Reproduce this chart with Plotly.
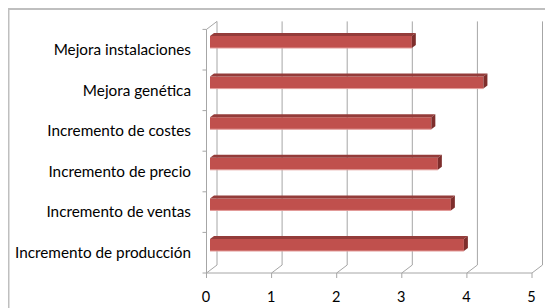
import plotly.graph_objects as go

categories = ["Incremento de producción", "Incremento de ventas", "Incremento de precio",
              "Incremento de costes", "Mejora genética", "Mejora instalaciones"]
values = [3.9, 3.7, 3.5, 3.4, 4.2, 3.1]
x_ticks = [0, 1, 2, 3, 4, 5]

# page offset of the plot div (browser body margin)
OFF = 8

# geometry (pixels) for the pseudo-3D look
KX = 65.1      # px per x unit
KY = 40.6      # px per category
FRONT_DX = -3.5 / KX
BACK_DX = 7.0 / KX
BACK_DY = 8.0 / KY
BAR_W = 12.0 / KY
BAR_OFF = 7.7 / KY - BAR_W / 2
DEPTH_DX = 4.0 / KX
DEPTH_DY = 3.0 / KY

W, H = 553 - OFF, 308 - OFF
L, R, T, B = 200 - OFF, 0, 20 - OFF, 27
x_range = [-10 / KX, (553 - 210) / KX]
y_range = [(252.7 - 281) / KY, (252.7 - 20) / KY]

pos = list(range(len(categories)))

fig = go.Figure()
fig.add_trace(go.Bar(
    y=pos, x=values, orientation="h",
    width=BAR_W, offset=BAR_OFF,
    marker=dict(color="#C0504D", line=dict(width=0)),
    hoverinfo="x+text", text=categories, textposition="none",
))

shapes = []
grid_col = "#A6A6A6"
top_back = len(categories) - 0.5 + BACK_DY
# back-wall gridlines with floor diagonals
for v in x_ticks:
    shapes.append(dict(type="path", xref="x", yref="y", layer="below",
                       path=f"M {v+FRONT_DX},{-0.5} L {v+BACK_DX},{-0.5+BACK_DY} L {v+BACK_DX},{top_back}",
                       line=dict(color=grid_col, width=1)))
    # tick under the front axis
    shapes.append(dict(type="line", xref="x", yref="y", layer="below",
                       x0=v+FRONT_DX, x1=v+FRONT_DX, y0=-0.5, y1=-0.5-5/KY,
                       line=dict(color=grid_col, width=1)))
# front axis line
shapes.append(dict(type="line", xref="x", yref="y", layer="below",
                   x0=x_ticks[0]+FRONT_DX, x1=x_ticks[-1]+FRONT_DX, y0=-0.5, y1=-0.5,
                   line=dict(color=grid_col, width=1)))
# left wall front edge + top diagonal
shapes.append(dict(type="path", xref="x", yref="y", layer="below",
                   path=f"M {FRONT_DX},{-0.5} L {FRONT_DX},{len(categories)-0.5} L {BACK_DX},{top_back}",
                   line=dict(color=grid_col, width=1)))
for i in range(len(categories) + 1):
    shapes.append(dict(type="line", xref="x", yref="y", layer="below",
                       x0=FRONT_DX-4/KX, x1=FRONT_DX, y0=i-0.5, y1=i-0.5,
                       line=dict(color=grid_col, width=1)))

# bar top and side faces
for p, v in zip(pos, values):
    yb = p + BAR_OFF
    yt = yb + BAR_W
    shapes.append(dict(type="path", xref="x", yref="y", layer="above",
                       path=f"M 0,{yt} L {v},{yt} L {v+DEPTH_DX},{yt+DEPTH_DY} L {DEPTH_DX},{yt+DEPTH_DY} Z",
                       fillcolor="#943C3A", line=dict(width=0)))
    shapes.append(dict(type="path", xref="x", yref="y", layer="above",
                       path=f"M {v},{yb} L {v},{yt} L {v+DEPTH_DX},{yt+DEPTH_DY} L {v+DEPTH_DX},{yb+DEPTH_DY} Z",
                       fillcolor="#7E2E2C", line=dict(width=0)))
    shapes.append(dict(type="line", xref="x", yref="y", layer="above",
                       x0=0, x1=v, y0=yb, y1=yb,
                       line=dict(color="#E29A98", width=1)))

# outer chart border (top and left), given in figure pixels
pw = W - L - R
ph = H - T - B
def px2paper_x(px):
    return (px - L) / pw
def py2paper_y(py):
    return (H - B - py) / ph
shapes.append(dict(type="path", xref="paper", yref="paper", layer="above",
                   path=f"M {px2paper_x(0.5)},{py2paper_y(H+2)} L {px2paper_x(0.5)},{py2paper_y(1)} L {px2paper_x(W+2)},{py2paper_y(1)}",
                   line=dict(color="#BFBFBF", width=2)))

fig.update_layout(
    width=W, height=H,
    margin=dict(l=L, r=R, t=T, b=B, pad=0),
    paper_bgcolor="white", plot_bgcolor="white",
    showlegend=False,
    shapes=shapes,
    font=dict(family="Lato, Liberation Sans, Arial, sans-serif", size=14, color="#000000"),
    xaxis=dict(range=x_range, tickvals=x_ticks, ticktext=[str(t) for t in x_ticks],
               showgrid=False, zeroline=False, showline=False, ticks="",
               ticklabelshift=-4, ticklabelstandoff=5, tickfont=dict(size=14.5),
               fixedrange=True),
    yaxis=dict(range=y_range, tickvals=pos, ticktext=categories,
               showgrid=False, zeroline=False, showline=False, ticks="",
               ticklabelstandoff=8, tickfont=dict(size=15.3),
               fixedrange=True),
)

fig.write_html("out.html")
